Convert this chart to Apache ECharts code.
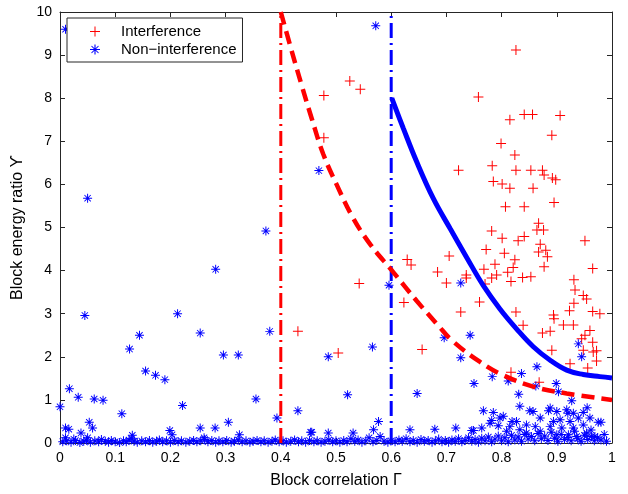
<!DOCTYPE html>
<html>
<head>
<meta charset="utf-8">
<script src="https://cdn.jsdelivr.net/npm/echarts@6/dist/echarts.min.js"></script>
<style>
html,body{margin:0;padding:0;background:#fff;}
#chart{width:628px;height:494px;}
</style>
</head>
<body>
<div id="chart"></div>
<script>
// x tick labels and y tick labels
const xTicks = [0, 0.1, 0.2, 0.3, 0.4, 0.5, 0.6, 0.7, 0.8, 0.9, 1];
const yTicks = [0, 1, 2, 3, 4, 5, 6, 7, 8, 9, 10];

// Interference points [Γ, ϒ]
const interference = [
  [0.826,9.12],[0.525,8.40],[0.544,8.21],[0.478,8.06],[0.478,7.08],[0.758,8.03],[0.841,7.62],[0.856,7.62],
  [0.906,7.60],[0.815,7.50],[0.891,7.14],[0.799,6.95],[0.824,6.68],[0.722,6.33],[0.783,6.43],[0.826,6.33],
  [0.853,6.33],[0.874,6.33],[0.877,6.22],[0.892,6.15],[0.898,6.11],[0.785,6.07],[0.801,6.01],[0.815,5.91],
  [0.857,5.91],[0.895,5.58],[0.807,5.48],[0.841,5.48],[0.867,5.10],[0.864,4.94],[0.876,4.94],[0.782,4.92],
  [0.801,4.75],[0.830,4.69],[0.841,4.79],[0.870,4.61],[0.951,4.69],
  [0.772,4.49],[0.805,4.40],[0.867,4.43],[0.880,4.47],[0.883,4.32],[0.824,4.25],[0.788,4.15],[0.768,4.03],
  [0.821,4.07],[0.877,4.09],[0.965,4.05],[0.791,3.90],[0.811,3.96],[0.782,3.83],[0.838,3.84],[0.853,3.86],
  [0.817,3.75],[0.736,3.90],[0.736,3.83],[0.770,3.69],[0.931,3.79],[0.933,3.55],[0.948,3.42],[0.954,3.34],
  [0.931,3.24],[0.760,3.27],[0.726,3.04],[0.826,3.04],[0.923,3.07],[0.965,3.05],[0.978,3.00],[0.894,2.97],
  [0.895,2.88],[0.912,2.74],[0.930,2.74],[0.839,2.73],[0.874,2.55],[0.888,2.59],[0.960,2.61],[0.951,2.50],
  [0.945,2.42],[0.965,2.34],[0.948,2.15],[0.966,2.11],[0.972,2.14],[0.891,2.15],[0.972,1.90],[0.956,1.74],
  [0.924,1.84],[0.817,1.64],
  [0.542,3.70],[0.629,4.26],[0.636,4.13],[0.623,3.26],[0.684,3.97],[0.700,3.71],[0.705,4.34],[0.656,2.17],
  [0.504,2.09],[0.431,2.59],[0.868,1.41]
];

// Non-interference points, scattered ones
const nonInterferenceUpper = [
  [0.01,9.6],[0.05,5.68],[0.373,4.92],[0.469,6.32],[0.572,9.68],[0.045,2.96],[0.282,4.03],[0.213,3.0],
  [0.254,2.55],[0.38,2.59],[0.144,2.5],[0.126,2.18],[0.296,2.04],[0.323,2.04],[0.155,1.67],[0.173,1.57],
  [0.19,1.47],[0.017,1.26],[0.033,1.06],[0.062,1.02],[0.078,0.99],[0.355,1.02],[0.0,0.84],[0.222,0.87],
  [0.112,0.68],[0.393,0.58],[0.431,0.75],[0.305,0.48],[0.053,0.48],[0.059,0.35],[0.01,0.35],[0.016,0.32],
  [0.038,0.23],[0.254,0.35],[0.281,0.35],[0.199,0.29],[0.203,0.19],[0.325,0.19],[0.131,0.18],[0.454,0.25],
  [0.261,0.12],[0.05,0.12],[0.01,0.12],[0.025,0.09],
  [0.596,3.66],[0.566,2.23],[0.486,2.0],[0.521,1.12],[0.647,1.15],[0.726,3.71],[0.696,2.44],[0.743,2.5],
  [0.726,1.98],[0.75,1.38],[0.783,1.54],[0.812,1.44],[0.836,1.61],[0.864,1.77],[0.862,1.32],[0.899,1.38],
  [0.831,1.13],[0.939,2.3],[0.945,2.0],[0.903,1.19],[0.833,0.85],[0.851,0.75],[0.857,0.73],[0.767,0.75],
  [0.785,0.71],[0.927,0.98],[0.885,0.75],[0.9,0.73],[0.918,0.77],[0.955,0.82],[0.93,0.69],[0.948,0.71],
  [0.87,0.58],[0.96,0.58],[0.975,0.48],[0.98,0.48],[0.782,0.52],[0.797,0.58],[0.803,0.62],[0.819,0.5],
  [0.717,0.35],[0.679,0.32],[0.746,0.29],[0.634,0.31],[0.577,0.5],[0.568,0.31],[0.531,0.23],[0.486,0.23],
  [0.456,0.25],[0.969,0.15],[0.764,0.35],[0.815,0.38],[0.845,0.42],[0.894,0.5],[0.92,0.69],
  [0.779,0.46],[0.794,0.40],[0.827,0.50],[0.833,0.31],[0.861,0.38],[0.870,0.27],[0.888,0.38],[0.906,0.54],
  [0.909,0.35],[0.924,0.50],[0.930,0.35],[0.939,0.58],[0.948,0.42],[0.954,0.23],[0.963,0.15],[0.749,0.29],
  [0.809,0.27],[0.845,0.23],[0.900,0.19],[0.921,0.19],[0.936,0.15],[0.888,0.81]
];

// Non-interference points along the baseline
const nonInterferenceBase = [
  [0.005,0.03],[0.012,0.05],[0.02,0.02],[0.028,0.06],[0.036,0.01],[0.043,0.04],[0.048,0.07],[0.055,0.02],
  [0.063,0.05],[0.07,0.03],[0.075,0.08],[0.082,0.04],[0.088,0.02],[0.093,0.06],[0.1,0.03],[0.108,0.01],
  [0.115,0.05],[0.12,0.03],[0.125,0.07],[0.13,0.1],[0.134,0.04],[0.14,0.02],[0.148,0.05],[0.155,0.03],
  [0.162,0.06],[0.168,0.02],[0.175,0.04],[0.18,0.07],[0.186,0.03],[0.193,0.05],[0.2,0.02],[0.207,0.06],
  [0.214,0.03],[0.22,0.05],[0.228,0.02],[0.235,0.04],[0.242,0.06],[0.248,0.03],[0.255,0.05],[0.262,0.08],
  [0.268,0.03],[0.275,0.06],[0.282,0.02],[0.288,0.05],[0.295,0.03],[0.302,0.06],[0.31,0.02],[0.316,0.04],
  [0.323,0.07],[0.33,0.03],[0.337,0.05],[0.344,0.02],[0.35,0.04],[0.357,0.06],[0.364,0.03],[0.37,0.05],
  [0.377,0.02],[0.384,0.04],[0.39,0.07],[0.397,0.03],[0.404,0.05],[0.41,0.02],[0.418,0.04],[0.425,0.07],
  [0.432,0.03],[0.438,0.05],[0.445,0.02],[0.452,0.06],[0.46,0.03],[0.466,0.05],[0.473,0.02],[0.48,0.04],
  [0.487,0.07],[0.494,0.03],[0.5,0.05],[0.507,0.02],[0.514,0.06],[0.52,0.03],[0.527,0.1],[0.534,0.04],
  [0.54,0.07],[0.547,0.02],[0.554,0.05],[0.56,0.12],[0.567,0.03],[0.574,0.06],[0.58,0.15],[0.587,0.04],
  [0.594,0.02],[0.6,0.05],[0.607,0.03],[0.614,0.07],[0.62,0.04],[0.627,0.1],[0.634,0.03],[0.64,0.06],
  [0.647,0.02],[0.654,0.08],[0.66,0.04],[0.667,0.06],[0.674,0.02],[0.68,0.05],[0.686,0.09],[0.692,0.03],
  [0.698,0.06],[0.704,0.02],[0.71,0.07],[0.716,0.04],[0.722,0.1],[0.728,0.03],[0.734,0.06],[0.74,0.12],
  [0.746,0.04],[0.752,0.08],[0.758,0.02],[0.764,0.11],[0.77,0.05],[0.776,0.14],[0.782,0.03],[0.788,0.09],
  [0.794,0.16],[0.8,0.05],[0.806,0.12],[0.812,0.03],[0.818,0.18],[0.824,0.07],[0.83,0.14],[0.836,0.04],
  [0.842,0.2],[0.848,0.09],[0.854,0.15],[0.86,0.05],[0.866,0.22],[0.872,0.1],[0.878,0.16],[0.884,0.06],
  [0.89,0.25],[0.896,0.11],[0.902,0.04],[0.908,0.2],[0.914,0.08],[0.92,0.13],[0.926,0.05],[0.932,0.27],
  [0.938,0.1],[0.944,0.04],[0.95,0.18],[0.956,0.08],[0.962,0.3],[0.968,0.05],[0.974,0.12],[0.98,0.07],
  [0.986,0.2],[0.99,0.04]
];

// Threshold curves
const redCurve = [
  [0.400,10.0],[0.417,9.22],[0.438,8.29],[0.456,7.53],[0.477,6.70],[0.501,6.00],[0.531,5.22],[0.562,4.61],
  [0.604,3.96],[0.646,3.30],[0.685,2.73],[0.710,2.38],[0.761,1.88],[0.800,1.59],[0.857,1.31],[0.918,1.15],
  [1.000,1.00]
];
const blueCurve = [
  [0.601,8.00],[0.622,7.30],[0.646,6.53],[0.676,5.68],[0.707,4.97],[0.737,4.30],[0.767,3.65],[0.797,3.11],
  [0.827,2.65],[0.857,2.24],[0.888,1.92],[0.918,1.69],[0.948,1.59],[0.978,1.54],[1.000,1.51]
];
const redVertical = [[0.4,0],[0.4,10]];
const blueVertical = [[0.6,0],[0.6,10]];

const plusPath = 'path://M-0.5,-5L0.5,-5L0.5,-0.5L5,-0.5L5,0.5L0.5,0.5L0.5,5L-0.5,5L-0.5,0.5L-5,0.5L-5,-0.5L-0.5,-0.5Z';
const starPath = 'path://M-5,-0.55L5,-0.55L5,0.55L-5,0.55Z' +
  'M-0.55,-5L0.55,-5L0.55,5L-0.55,5Z' +
  'M-3.15,-3.85L3.85,3.15L3.15,3.85L-3.85,-3.15Z' +
  'M3.85,-3.15L-3.15,3.85L-3.85,3.15L3.15,-3.85Z';

const FONT = 'Liberation Sans, Arial, Helvetica, sans-serif';
const axisColor = '#262626';

const chart = echarts.init(document.getElementById('chart'), null, {renderer: 'canvas'});
const fmt = v => {
  const r = Math.round(v * 10) / 10;
  return xTicks.includes(r) ? String(r) : '';
};
chart.setOption({
  animation: false,
  backgroundColor: '#fff',
  grid: {left: 60, right: 16, top: 12, bottom: 47, containLabel: false},
  legend: {
    data: ['Interference', 'Non\u2212interference'],
    orient: 'vertical',
    left: 67, top: 18,
    padding: [6, 6, 5, 23],
    itemWidth: 42, itemHeight: 10, itemGap: 3,
    backgroundColor: '#fff',
    borderColor: axisColor, borderWidth: 1, borderRadius: 0,
    textStyle: {fontFamily: FONT, fontSize: 15, color: '#000'},
    z: 10
  },
  xAxis: [{
    type: 'value', min: 0, max: 1, interval: 0.1, position: 'bottom',
    name: 'Block correlation \u0393', nameLocation: 'middle', nameGap: 30,
    nameTextStyle: {fontFamily: FONT, fontSize: 16, color: '#000'},
    axisLine: {show: true, onZero: false, lineStyle: {color: axisColor, width: 1}},
    axisTick: {show: true, inside: true, length: 5, lineStyle: {color: axisColor}},
    axisLabel: {fontFamily: FONT, fontSize: 14, color: '#000', margin: 8, formatter: fmt},
    splitLine: {show: false}
  }, {
    type: 'value', min: 0, max: 1, interval: 0.1, position: 'top',
    axisLine: {show: true, onZero: false, lineStyle: {color: axisColor, width: 1}},
    axisTick: {show: true, inside: true, length: 5, lineStyle: {color: axisColor}},
    axisLabel: {show: false}, splitLine: {show: false}
  }],
  yAxis: [{
    type: 'value', min: 0, max: 10, interval: 1, position: 'left',
    name: 'Block energy ratio \u03D2', nameLocation: 'middle', nameGap: 29,
    nameTextStyle: {fontFamily: FONT, fontSize: 16, color: '#000'},
    axisLine: {show: true, onZero: false, lineStyle: {color: axisColor, width: 1}},
    axisTick: {show: true, inside: true, length: 5, lineStyle: {color: axisColor}},
    axisLabel: {fontFamily: FONT, fontSize: 14, color: '#000', margin: 8,
      formatter: v => yTicks.includes(v) ? String(v) : ''},
    splitLine: {show: false}
  }, {
    type: 'value', min: 0, max: 10, interval: 1, position: 'right',
    axisLine: {show: true, onZero: false, lineStyle: {color: axisColor, width: 1}},
    axisTick: {show: true, inside: true, length: 5, lineStyle: {color: axisColor}},
    axisLabel: {show: false}, splitLine: {show: false}
  }],
  series: [
    {
      name: 'Interference', type: 'scatter', symbol: plusPath, symbolSize: 10,
      itemStyle: {color: '#ff0000', opacity: 1}, data: interference, z: 3
    },
    {
      name: 'Non\u2212interference', type: 'scatter', symbol: starPath, symbolSize: 9,
      itemStyle: {color: '#0000ff', opacity: 1}, data: nonInterferenceBase.concat(nonInterferenceUpper), z: 3
    },
    {
      name: 'redV', type: 'line', data: redVertical, showSymbol: false, symbol: 'none',
      lineStyle: {color: '#ff0000', width: 3, type: [15, 5, 2, 5]}, z: 4, silent: true
    },
    {
      name: 'blueV', type: 'line', data: blueVertical, showSymbol: false, symbol: 'none',
      lineStyle: {color: '#0000ff', width: 3, type: [15, 5, 2, 5]}, z: 4, silent: true
    },
    {
      name: 'redCurve', type: 'line', data: redCurve, showSymbol: false, symbol: 'none', smooth: 0.4,
      lineStyle: {color: '#ff0000', width: 4.5, type: [13, 7]}, z: 4, silent: true
    },
    {
      name: 'blueCurve', type: 'line', data: blueCurve, showSymbol: false, symbol: 'none', smooth: 0.4,
      lineStyle: {color: '#0000ff', width: 5, type: 'solid'}, z: 4, silent: true
    }
  ]
});
</script>
</body>
</html>
